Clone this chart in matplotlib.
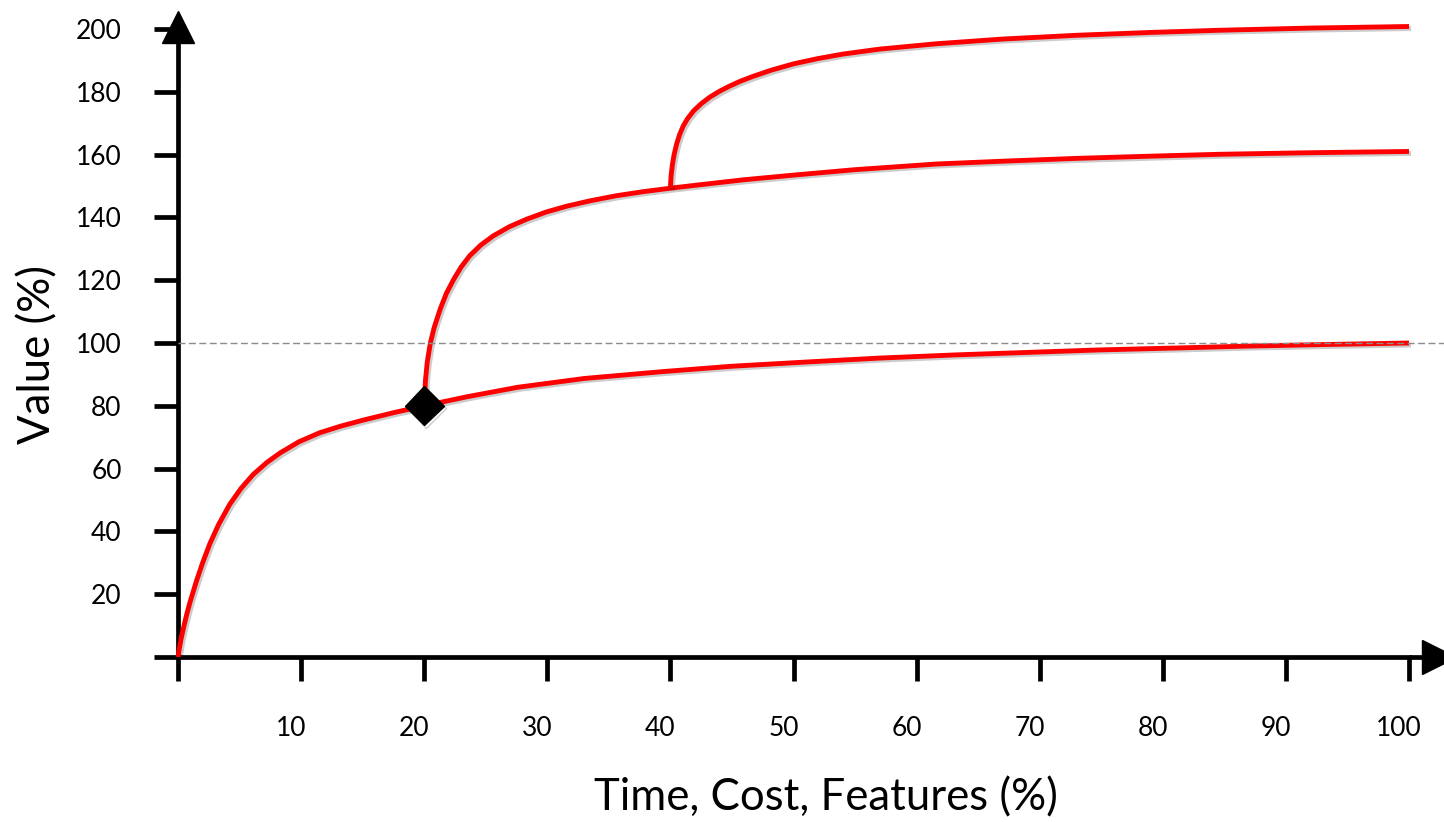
import numpy as np
import matplotlib
matplotlib.use("Agg")
import matplotlib.pyplot as plt
import matplotlib.patheffects as pe
from matplotlib.transforms import ScaledTranslation

#//==\\--//==\\--//==\\--//==\\--//==\\--//==\\--//==\\--//==\\--//==\\--//==\\#
# values

# base curve (starts at the origin)
x_base = [0, 0.1, 0.25, 0.5, 0.75, 1.0, 1.5, 2.0, 2.6, 3.3, 4.2, 5.1, 6.1, 7.2, 8.3,
          9.8, 11.5, 13.2, 15, 17.5, 20, 23.5, 27.6, 33, 39.4, 45, 51.3, 57, 63.1,
          69, 74.9, 81, 86.7, 93, 100]
y_base = [0, 2.5, 5.8, 10.2, 14.2, 17.8, 24.2, 30, 36.2, 42.2, 48.6, 53.6, 58.1, 61.9, 65.0,
          68.5, 71.4, 73.5, 75.4, 77.8, 80, 82.9, 85.9, 88.7, 90.9, 92.6, 94.0, 95.2, 96.2,
          97.0, 97.8, 98.4, 99.0, 99.5, 100]

# middle curve (branches at the diamond)
x_mid = [20, 20.1, 20.25, 20.5, 20.8, 21.3, 21.8, 22.4, 23.0, 23.7, 24.6, 25.6, 26.9,
         28.3, 29.9, 31.6, 33.5, 35.6, 37.8, 40, 42.4, 46, 50.1, 55, 61.6, 67, 73, 79,
         84.6, 92, 100]
y_mid = [80, 88, 94, 100, 104.8, 110.8, 115.8, 120.3, 124.2, 127.8, 131.2, 134.1, 137.0,
         139.4, 141.7, 143.6, 145.3, 146.9, 148.2, 149.3, 150.4, 152.0, 153.5, 155.2, 157.0,
         157.9, 158.8, 159.5, 160.1, 160.6, 161]

# top curve (branches from the middle curve)
x_top = [40, 40.05, 40.15, 40.3, 40.5, 40.75, 41.05, 41.4, 41.9, 42.5, 43.2, 44.0, 44.8,
         45.7, 46.7, 48.2, 50, 52, 54, 57, 61.6, 67, 73, 79, 84.6, 92, 100]
y_top = [149.3, 153, 156.5, 160, 163.3, 166.4, 169.2, 171.5, 174.0, 176.2, 178.3, 180.2, 181.8,
         183.4, 184.9, 186.9, 188.9, 190.6, 192.0, 193.6, 195.3, 196.8, 198.0, 198.9, 199.6,
         200.3, 200.8]

# branch point marker
x_pivot = [20]
y_pivot = [80]

# reference level
y_ref = 100

x_ticks = [0, 10, 20, 30, 40, 50, 60, 70, 80, 90, 100]
x_labels = [""] + [str(v) for v in x_ticks[1:]]
y_ticks = [0, 20, 40, 60, 80, 100, 120, 140, 160, 180, 200]
y_labels = [""] + [str(v) for v in y_ticks[1:]]

#//==\\--//==\\--//==\\--//==\\--//==\\--//==\\--//==\\--//==\\--//==\\--//==\\#

plt.rcParams['font.family'] = ['Lato', 'DejaVu Sans']

W, H = 1444, 822
fig = plt.figure(figsize=(W/100, H/100), dpi=100)
ax = fig.add_axes([178/W, 165/H, 1231/W, 628/H])
ax.set_xlim(0, 100)
ax.set_ylim(0, 200)

shadow = [pe.SimpleLineShadow(offset=(1.5, -1.5), shadow_color='black', alpha=0.2), pe.Normal()]

# curves
for xs, ys in [(x_base, y_base), (x_mid, y_mid), (x_top, y_top)]:
    ax.plot(xs, ys, color='#ff0000', lw=3.5, solid_capstyle='butt', solid_joinstyle='round',
            clip_on=False, zorder=3, path_effects=shadow)

# dashed reference line, runs past the right end
ax.axhline(y_ref, xmin=0, xmax=1.03, color='#8c8c8c', lw=1.0,
           linestyle=(0, (5, 2.5)), clip_on=False, zorder=4)

# diamond
ax.plot(x_pivot, y_pivot, marker='D', color='black', markersize=20,
        linestyle='none', zorder=5, path_effects=shadow)

# axes
for side in ['top', 'right']:
    ax.spines[side].set_visible(False)
for side in ['left', 'bottom']:
    ax.spines[side].set_linewidth(3.4)
    ax.spines[side].set_color('black')

# extend the x axis to the arrow head, add arrow heads
ax.plot([100, 102.4], [0, 0], color='black', lw=3.4, clip_on=False, zorder=2,
        solid_capstyle='butt')
ax.plot([102.4], [0], marker='>', color='black', markersize=24, clip_on=False, zorder=6)
ax.plot([0], [200.6], marker='^', color='black', markersize=23, clip_on=False, zorder=6)

ax.set_xticks(x_ticks)
ax.set_xticklabels(x_labels)
ax.set_yticks(y_ticks)
ax.set_yticklabels(y_labels)
ax.tick_params(axis='both', direction='out', length=17.5, width=3.4, color='black',
               labelsize=19)
ax.tick_params(axis='x', pad=25)
ax.tick_params(axis='y', pad=23)

# x tick labels sit a little to the left of their ticks
offset = ScaledTranslation(-10/100, 0, fig.dpi_scale_trans)
for lab in ax.get_xticklabels():
    lab.set_transform(lab.get_transform() + offset)

fig.text(38/W, 1 - 354/H, "Value (%)", rotation=90, ha='center', va='center', fontsize=31.5)
fig.text(826/W, 1 - 798/H, "Time, Cost, Features (%)", ha='center', va='center', fontsize=31.5)

fig.savefig("out.png", dpi=100)
